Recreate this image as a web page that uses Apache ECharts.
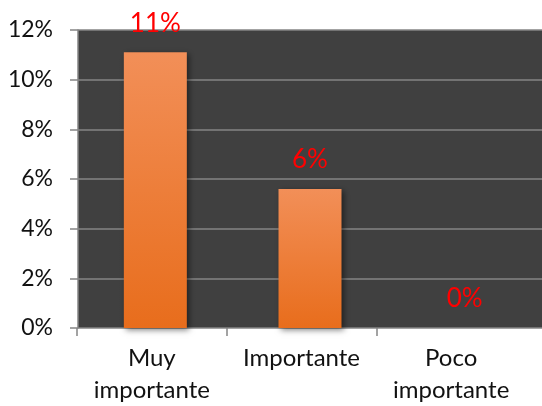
<!DOCTYPE html>
<html>
<head>
<meta charset="utf-8">
<script src="https://cdn.jsdelivr.net/npm/echarts@6/dist/echarts.min.js"></script>
<style>
  html, body { margin: 0; padding: 0; background: #fff; }
  #chart { width: 542px; height: 406px; }
</style>
</head>
<body>
<div id="chart"></div>
<script>
const categories = ["Muy\nimportante", "Importante", "Poco\nimportante"];
const values = [0.111, 0.056, 0];
const yTicks = { min: 0, max: 0.12, interval: 0.02 };

const chart = echarts.init(document.getElementById("chart"));
const font = "Lato";
const gridColor = "#858585";

const options = {
  animation: false,
  textStyle: { fontFamily: font },
  grid: [
    // zone sombre avec les barres
    { left: 78, right: -2, top: 30, bottom: 78, show: true, backgroundColor: "#404040", borderWidth: 0 },
    // libellés des catégories
    { left: 77, right: 16, top: 30, bottom: 78 },
    // petites graduations sous l'axe (sans la dernière)
    { left: 77, right: 165, top: 30, bottom: 78 },
  ],
  xAxis: [
    {
      gridIndex: 0,
      type: "category",
      data: categories,
      axisLine: { show: false },
      axisTick: { show: false },
      axisLabel: { show: false },
    },
    {
      gridIndex: 1,
      type: "category",
      data: categories,
      axisLine: { show: false },
      axisTick: { show: false },
      axisLabel: { interval: 0, hideOverlap: false, color: "#111", fontSize: 24, lineHeight: 32, margin: 22, fontFamily: font },
    },
    {
      gridIndex: 2,
      type: "category",
      boundaryGap: false,
      data: ["", "", ""],
      axisLine: { show: false },
      axisTick: { show: true, length: 8, lineStyle: { color: gridColor, width: 1.5 } },
      axisLabel: { show: false },
    },
  ],
  yAxis: [
    {
      gridIndex: 0,
      type: "value",
      min: yTicks.min,
      max: yTicks.max,
      interval: yTicks.interval,
      axisLine: { show: true, lineStyle: { color: gridColor, width: 1.5 } },
      axisTick: { show: true, length: 8, lineStyle: { color: gridColor, width: 1.5 } },
      splitLine: { show: true, lineStyle: { color: gridColor, width: 1.5 } },
      axisLabel: {
        color: "#111",
        fontSize: 23,
        margin: 25,
        fontFamily: font,
        formatter: (v) => Math.round(v * 100) + "%",
      },
    },
    { gridIndex: 1, type: "value", min: 0, max: 0.12, show: false },
    { gridIndex: 2, type: "value", min: 0, max: 0.12, show: false },
  ],
  series: [
    {
      type: "bar",
      xAxisIndex: 0,
      yAxisIndex: 0,
      data: values,
      barWidth: 63,
      itemStyle: {
        color: new echarts.graphic.LinearGradient(0, 0, 0, 1, [
          { offset: 0, color: "#f28f58" },
          { offset: 1, color: "#e86d1c" },
        ]),
        shadowColor: "rgba(0,0,0,0.5)",
        shadowBlur: 6,
        shadowOffsetX: 2,
        shadowOffsetY: 2,
      },
      label: {
        show: true,
        position: "top",
        distance: 16,
        color: "#ff0000",
        fontSize: 26,
        fontFamily: font,
        formatter: (p) => Math.round(p.value * 100) + "%",
      },
    },
  ],
};

chart.setOption(options);
</script>
</body>
</html>
